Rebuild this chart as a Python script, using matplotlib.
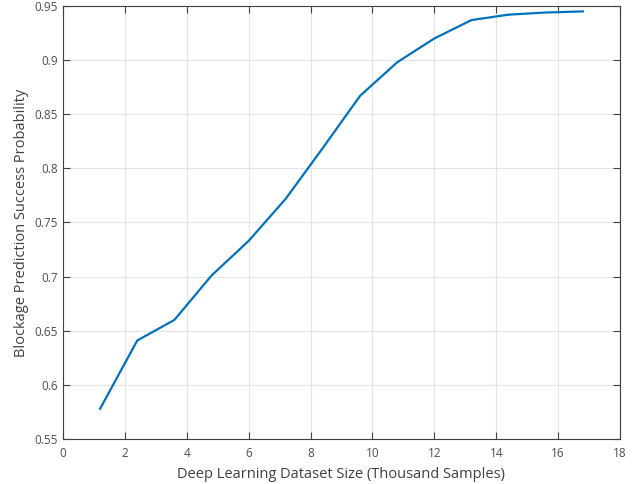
import matplotlib
matplotlib.use("Agg")
from matplotlib import pyplot as plt

# dataset size (thousand samples) vs success probability
size_k = [1.2, 2.4, 3.6, 4.8, 6.0, 7.2, 8.4, 9.6, 10.8, 12.0, 13.2, 14.4, 15.6, 16.8]
success = [0.578, 0.641, 0.660, 0.701, 0.733, 0.772, 0.819, 0.867, 0.898, 0.920,
           0.937, 0.942, 0.944, 0.945]

plt.rcParams['font.family'] = ['Open Sans', 'DejaVu Sans']

fig = plt.figure(figsize=(6.37, 4.84), dpi=100)
ax = fig.add_axes([0.0989, 0.093, 0.8744, 0.8946])

ax.plot(size_k, success, color='#0072BD', linewidth=1.6)

ax.set_xlim(0, 18)
ax.set_ylim(0.55, 0.95)
ax.set_xticks(range(0, 19, 2))
ax.set_yticks([0.55, 0.6, 0.65, 0.7, 0.75, 0.8, 0.85, 0.9, 0.95])
ax.set_yticklabels(['0.55', '0.6', '0.65', '0.7', '0.75', '0.8', '0.85', '0.9', '0.95'])

ax.grid(True, color='#e3e3e3', linewidth=0.8)
ax.set_axisbelow(True)
ax.tick_params(direction='in', top=True, right=True, length=5, width=0.8,
               colors='#404040', labelsize=8.5, labelcolor='#4d4d4d')
ax.tick_params(axis='x', pad=6)
for s in ax.spines.values():
    s.set_color('#404040')
    s.set_linewidth(0.8)

ax.set_xlabel('Deep Learning Dataset Size (Thousand Samples)', fontsize=10.5,
              color='#404040', labelpad=5)
ax.set_ylabel('Blockage Prediction Success Probability', fontsize=10.5, color='#404040')

fig.savefig('out.png', dpi=100)
